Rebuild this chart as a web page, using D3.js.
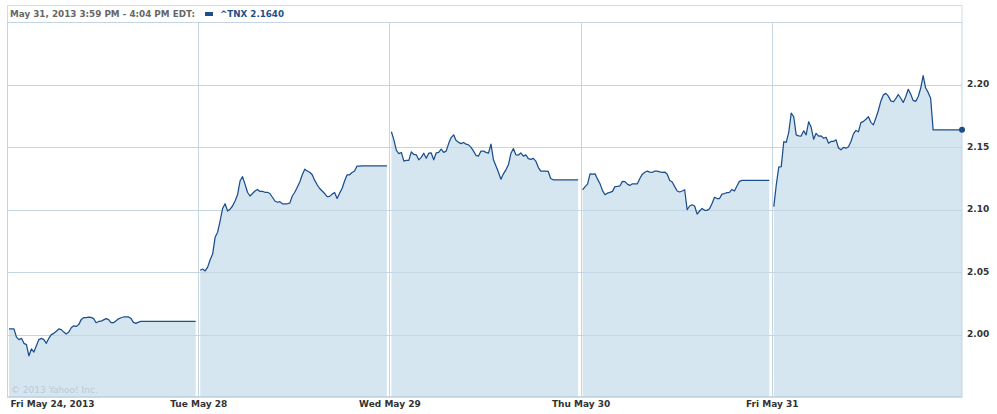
<!DOCTYPE html>
<html><head><meta charset="utf-8">
<script src="https://cdn.jsdelivr.net/npm/d3@7"></script>
<style>
body{margin:0;background:#fff;}
svg{display:block;font-family:"DejaVu Sans",Verdana,sans-serif;}
</style>
</head><body>
<svg id="chart" width="997" height="414"></svg>
<script>
// ---- data ----
const dayLabels = ["Fri May 24, 2013", "Tue May 28", "Wed May 29", "Thu May 30", "Fri May 31"];
const yTicks = [2.00, 2.05, 2.10, 2.15, 2.20];
const headerText = "May 31, 2013 3:59 PM - 4:04 PM EDT:";
const seriesName = "^TNX";
const lastValue = 2.1640;
const copyright = "\u00A9 2013 Yahoo! Inc.";

// yields sampled at equal time steps through each trading day (76 slots per day)
const day1 = [2.0045,2.0045,2.0045,1.998,1.996,1.997,1.993,1.992,1.983,1.9885,1.986,1.991,1.996,1.997,1.996,1.993,1.997,2.000,2.001,2.0027,2.0045,2.004,2.002,2.0005,2.002,2.0055,2.007,2.0065,2.008,2.012,2.0135,2.0135,2.014,2.0138,2.0128,2.0095,2.0105,2.0107,2.0118,2.0128,2.012,2.0095,2.0095,2.011,2.0126,2.0135,2.0141,2.0141,2.0141,2.013,2.0098,2.009,2.010,2.0105];
const day2 = [2.0515,2.0525,2.051,2.054,2.060,2.0645,2.078,2.082,2.091,2.101,2.1048,2.099,2.1005,2.103,2.107,2.112,2.123,2.1265,2.1205,2.114,2.111,2.113,2.115,2.1163,2.1147,2.1147,2.114,2.114,2.113,2.110,2.107,2.106,2.1065,2.1048,2.1048,2.1048,2.1053,2.111,2.114,2.118,2.1222,2.128,2.1325,2.131,2.130,2.128,2.1235,2.120,2.117,2.115,2.113,2.1105,2.1107,2.1125,2.1138,2.109,2.1133,2.117,2.123,2.128,2.128,2.1299,2.131,2.135,2.135,2.1352];
const day3 = [2.1625,2.156,2.1475,2.145,2.1459,2.139,2.1395,2.1395,2.1464,2.1443,2.144,2.140,2.142,2.1453,2.1413,2.1453,2.1455,2.140,2.1455,2.146,2.1485,2.146,2.147,2.153,2.1578,2.160,2.1555,2.154,2.153,2.1539,2.1525,2.152,2.150,2.147,2.1435,2.143,2.147,2.147,2.146,2.1453,2.1525,2.140,2.135,2.130,2.1245,2.1288,2.132,2.136,2.145,2.149,2.144,2.1438,2.1455,2.143,2.144,2.141,2.1404,2.1412,2.139,2.134,2.131,2.131,2.131,2.1307,2.125,2.124];
const day4 = [2.116,2.1185,2.1205,2.1288,2.1285,2.1288,2.1245,2.1208,2.1153,2.112,2.1133,2.1139,2.1147,2.1185,2.1187,2.1192,2.1227,2.1225,2.1205,2.1195,2.1208,2.1208,2.1208,2.125,2.1285,2.130,2.131,2.1302,2.1299,2.131,2.131,2.1303,2.130,2.1302,2.1285,2.1235,2.1222,2.1185,2.115,2.1142,2.115,2.116,2.100,2.103,2.104,2.103,2.0965,2.099,2.101,2.0995,2.0995,2.1008,2.105,2.110,2.109,2.109,2.1125,2.113,2.1137,2.1139,2.1163,2.115,2.119,2.1227,2.1235];
const day5 = [2.1025,2.120,2.1341,2.1345,2.1545,2.154,2.162,2.1775,2.1745,2.160,2.1592,2.159,2.1632,2.160,2.1705,2.166,2.1565,2.1612,2.159,2.1592,2.1573,2.158,2.1533,2.1547,2.1547,2.156,2.1495,2.148,2.150,2.1493,2.1505,2.1547,2.1608,2.1635,2.1625,2.1698,2.1708,2.1725,2.1745,2.170,2.168,2.1735,2.1795,2.187,2.192,2.1932,2.191,2.1872,2.1865,2.189,2.1923,2.1893,2.186,2.1905,2.1965,2.1925,2.1876,2.1868,2.1905,2.1973,2.2075,2.1975,2.194,2.1893,2.164];
const days = [day1, day2, day3, day4, day5];
const SLOTS = 76;

// ---- layout ----
const plot = {left: 7.5, right: 962, top: 22.5, bottom: 397};
const FONT = '"DejaVu Sans", Verdana, sans-serif';
const C = {
  line: "#1b4f8c", fill: "#d6e6f1", grid: "#c4d6e4", border: "#c3d5e2",
  axisText: "#333333", header: "#666666", legend: "#1f4f8a"
};

const svg = d3.select("#chart");

const xDay = d3.scaleLinear().domain([0, dayLabels.length]).range([7, 963]);
const y = d3.scaleLinear().domain([1.95, 2.25]).range([plot.bottom, plot.top]);

// header box
svg.append("rect").attr("x", 7.5).attr("y", 5.5).attr("width", 954.5).attr("height", 17)
  .attr("fill", "#fff").attr("stroke", "#d9d9d9");
svg.append("text").attr("x", 10).attr("y", 16.5)
  .attr("font-size", 9).attr("font-weight", "bold").attr("fill", C.header)
  .attr("textLength", 185).attr("lengthAdjust", "spacingAndGlyphs")
  .text(headerText);
svg.append("rect").attr("x", 205).attr("y", 12).attr("width", 8).attr("height", 4).attr("fill", C.legend);
svg.append("text").attr("x", 220).attr("y", 16.5)
  .attr("font-size", 9).attr("font-weight", "bold").attr("fill", C.legend)
  .attr("textLength", 64).attr("lengthAdjust", "spacingAndGlyphs")
  .text(seriesName + " " + d3.format(".4f")(lastValue));

// per-day point sets
function dayPoints(vals, d) {
  const start = xDay(d) + 2;
  const end = xDay(d + 1) - 2.5;
  const xs = d3.scaleLinear().domain([0, SLOTS - 1]).range([start, end]);
  const pts = vals.map((v, i) => [xs(i), v]);
  const tailX = d === days.length - 1 ? plot.right : end;
  pts.push([tailX, vals[vals.length - 1]]);
  return pts;
}
const dayPts = days.map((vals, d) => dayPoints(vals, d));

const area = d3.area().x(p => p[0]).y0(plot.bottom).y1(p => y(p[1]));
const line = d3.line().x(p => p[0]).y(p => y(p[1]));

// fills
svg.append("g").selectAll("path").data(dayPts).join("path")
  .attr("d", area).attr("fill", C.fill);

// copyright
svg.append("text").attr("x", 11).attr("y", 393)
  .attr("font-size", 9).attr("fill", "#bcc9d4").text(copyright);

// horizontal grid
svg.append("g").selectAll("line").data(yTicks).join("line")
  .attr("x1", plot.left).attr("x2", plot.right)
  .attr("y1", d => Math.round(y(d)) + 0.5).attr("y2", d => Math.round(y(d)) + 0.5)
  .attr("stroke", C.grid).attr("stroke-width", 1);

// day separators
svg.append("g").selectAll("line").data(d3.range(1, dayLabels.length)).join("line")
  .attr("x1", d => Math.round(xDay(d)) + 0.5).attr("x2", d => Math.round(xDay(d)) + 0.5)
  .attr("y1", plot.top).attr("y2", plot.bottom)
  .attr("stroke", C.grid).attr("stroke-width", 1);

// plot border
svg.append("rect").attr("x", plot.left).attr("y", plot.top)
  .attr("width", plot.right - plot.left).attr("height", plot.bottom - plot.top)
  .attr("fill", "none").attr("stroke", C.border);
svg.append("line").attr("x1", plot.left).attr("x2", plot.right)
  .attr("y1", plot.bottom).attr("y2", plot.bottom).attr("stroke", "#b5cbdc");

// lines
svg.append("g").selectAll("path").data(dayPts).join("path")
  .attr("d", line).attr("fill", "none").attr("stroke", C.line)
  .attr("stroke-width", 1.25).attr("stroke-linejoin", "round");

// last value dot
svg.append("circle").attr("cx", plot.right).attr("cy", y(lastValue)).attr("r", 3).attr("fill", C.line);

// y axis (right)
const yAxis = svg.append("g").attr("transform", `translate(${plot.right},0)`)
  .call(d3.axisRight(y).tickValues(yTicks).tickFormat(d3.format(".2f")).tickSize(0).tickPadding(5));
yAxis.attr("font-family", FONT).attr("font-size", 9);
yAxis.select(".domain").remove();
yAxis.selectAll("text").attr("font-weight", "bold").attr("fill", C.axisText).attr("dy", "0.22em");

// x axis
const xAxis = svg.append("g").attr("transform", `translate(0,${plot.bottom})`)
  .call(d3.axisBottom(xDay).tickValues(d3.range(dayLabels.length)).tickFormat(i => dayLabels[i]).tickSize(0).tickPadding(4));
xAxis.attr("font-family", FONT).attr("font-size", 9);
xAxis.select(".domain").remove();
xAxis.selectAll("text").attr("font-weight", "bold").attr("fill", C.axisText);
xAxis.selectAll(".tick").filter(d => d === 0).select("text")
  .attr("text-anchor", "start").attr("x", 3);
</script>
</body></html>
